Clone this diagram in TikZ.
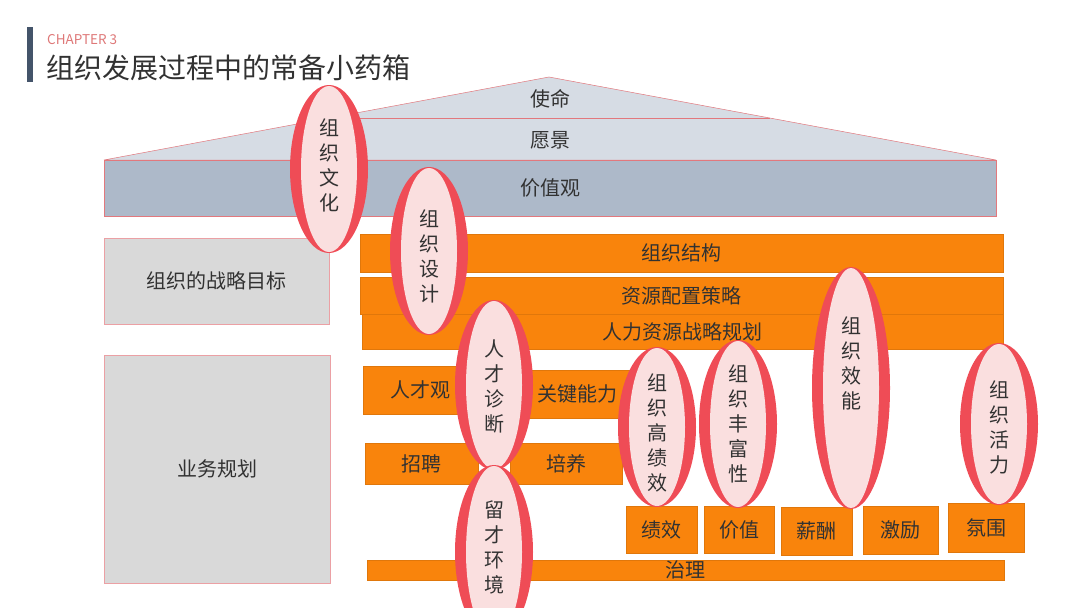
\documentclass[tikz,border=0pt]{standalone}
\usepackage{fontspec}
\setmainfont{Noto Sans CJK SC}
\usepackage{tikz}
\usetikzlibrary{shapes.geometric, positioning}

\definecolor{inkgray}{RGB}{50,50,50}
\definecolor{slatebar}{RGB}{68,84,106}
\definecolor{chapterred}{RGB}{222,120,120}
\definecolor{roofpale}{RGB}{214,220,228}
\definecolor{roofdark}{RGB}{173,185,201}
\definecolor{thinred}{RGB}{226,120,125}
\definecolor{boxgray}{RGB}{217,217,217}
\definecolor{barorange}{RGB}{249,132,12}
\definecolor{rimred}{RGB}{239,76,86}
\definecolor{facepink}{RGB}{250,223,223}

\begin{document}
\begin{tikzpicture}[
  x=1pt, y=-1pt,
  every node/.style={text=inkgray, font=\fontsize{20}{23}\selectfont, inner sep=0pt},
  roofbox/.style={fill=roofdark, draw=thinred, line width=0.5pt},
  graybox/.style={fill=boxgray, draw=thinred!70, line width=0.5pt, anchor=north west},
  orangebar/.style={fill=barorange, draw=barorange!90!black, line width=0.3pt, anchor=north west},
  rim/.style={ellipse, fill=rimred, minimum width=78},
  face/.style={ellipse, fill=facepink, minimum width=56},
  lenstext/.style={align=center, font=\fontsize{20}{25}\selectfont}
  ]

  \useasboundingbox (0,0) rectangle (1080,608);

  % heading
  \fill[slatebar] (27,27) rectangle (33,82);
  \node[anchor=west, text=chapterred, font=\fontsize{13.5}{15}\selectfont] (chapter) at (47,40) {CHAPTER 3};
  \node[anchor=west, font=\fontsize{28}{32}\selectfont] (title) at (46,68) {组织发展过程中的常备小药箱};

  % roof
  \filldraw[fill=roofpale, draw=thinred, line width=0.5pt] (104,160) -- (549,77) -- (996,160) -- cycle;
  \draw[thinred, line width=0.8pt] (330,118) -- (770,118);
  \node (shiming) at (550,99) {使命};
  \node (yuanjing) at (550,140) {愿景};
  \node[roofbox, anchor=north west, minimum width=892, minimum height=56] (jiazhiguan) at (104,160) {价值观};

  % left column
  \node[graybox, minimum width=225, minimum height=86] (mubiao) at (104,238) {组织的战略目标};
  \node[graybox, minimum width=226, minimum height=228] (yewu) at (104,355) {业务规划};

  % orange bars
  \node[orangebar, minimum width=643, minimum height=38] (jiegou) at (360,234) {组织结构};
  \node[orangebar, minimum width=643, minimum height=37] (peizhi) at (360,277) {资源配置策略};
  \node[orangebar, minimum width=641, minimum height=35] (guihua) at (362,314) {人力资源战略规划};
  \node[orangebar, minimum width=115, minimum height=48] (rencaiguan) at (363,366) {人才观};
  \node[orangebar, minimum width=105, minimum height=48] (nengli) at (525,370) {关键能力};
  \node[orangebar, minimum width=113, minimum height=41] (zhaopin) at (365,443) {招聘};
  \node[orangebar, minimum width=112, minimum height=41] (peiyang) at (510,443) {培养};
  \node[orangebar, minimum width=637, minimum height=20] (zhili) at (367,560) {治理};

  \node[orangebar, minimum width=71, minimum height=47] (jixiao) at (626,506) {绩效};
  \node[orangebar, minimum width=70, minimum height=47] (jiazhi) at (704,506) {价值};
  \node[orangebar, minimum width=71, minimum height=48] (xinchou) at (781,507) {薪酬};
  \node[orangebar, minimum width=75, minimum height=48] (jili) at (863,506) {激励};
  \node[orangebar, minimum width=76, minimum height=49] (fenwei) at (948,503) {氛围};

  % lenses
  \foreach \nm/\cx/\cy/\ry/\ty/\txt in {
      wenhua/329/169/84/165/{组\\织\\文\\化},
      sheji/429/251/84/256/{组\\织\\设\\计},
      zhenduan/494/385/85/386/{人\\才\\诊\\断},
      huanjing/494/552/87/547/{留\\才\\环\\境},
      gaojixiao/657/427/80/433/{组\\织\\高\\绩\\效},
      fengfu/738/424/84/424/{组\\织\\丰\\富\\性},
      xiaoneng/851/388/121/363/{组\\织\\效\\能},
      huoli/999/424/81/427/{组\\织\\活\\力}} {
    \node[rim, minimum height=2*\ry] (\nm) at (\cx,\cy) {};
    \node[face, minimum height=2*\ry-2] (\nm-face) at (\nm) {};
    \node[lenstext] (\nm-text) at (\cx,\ty) {\txt};
  }

\end{tikzpicture}
\end{document}
